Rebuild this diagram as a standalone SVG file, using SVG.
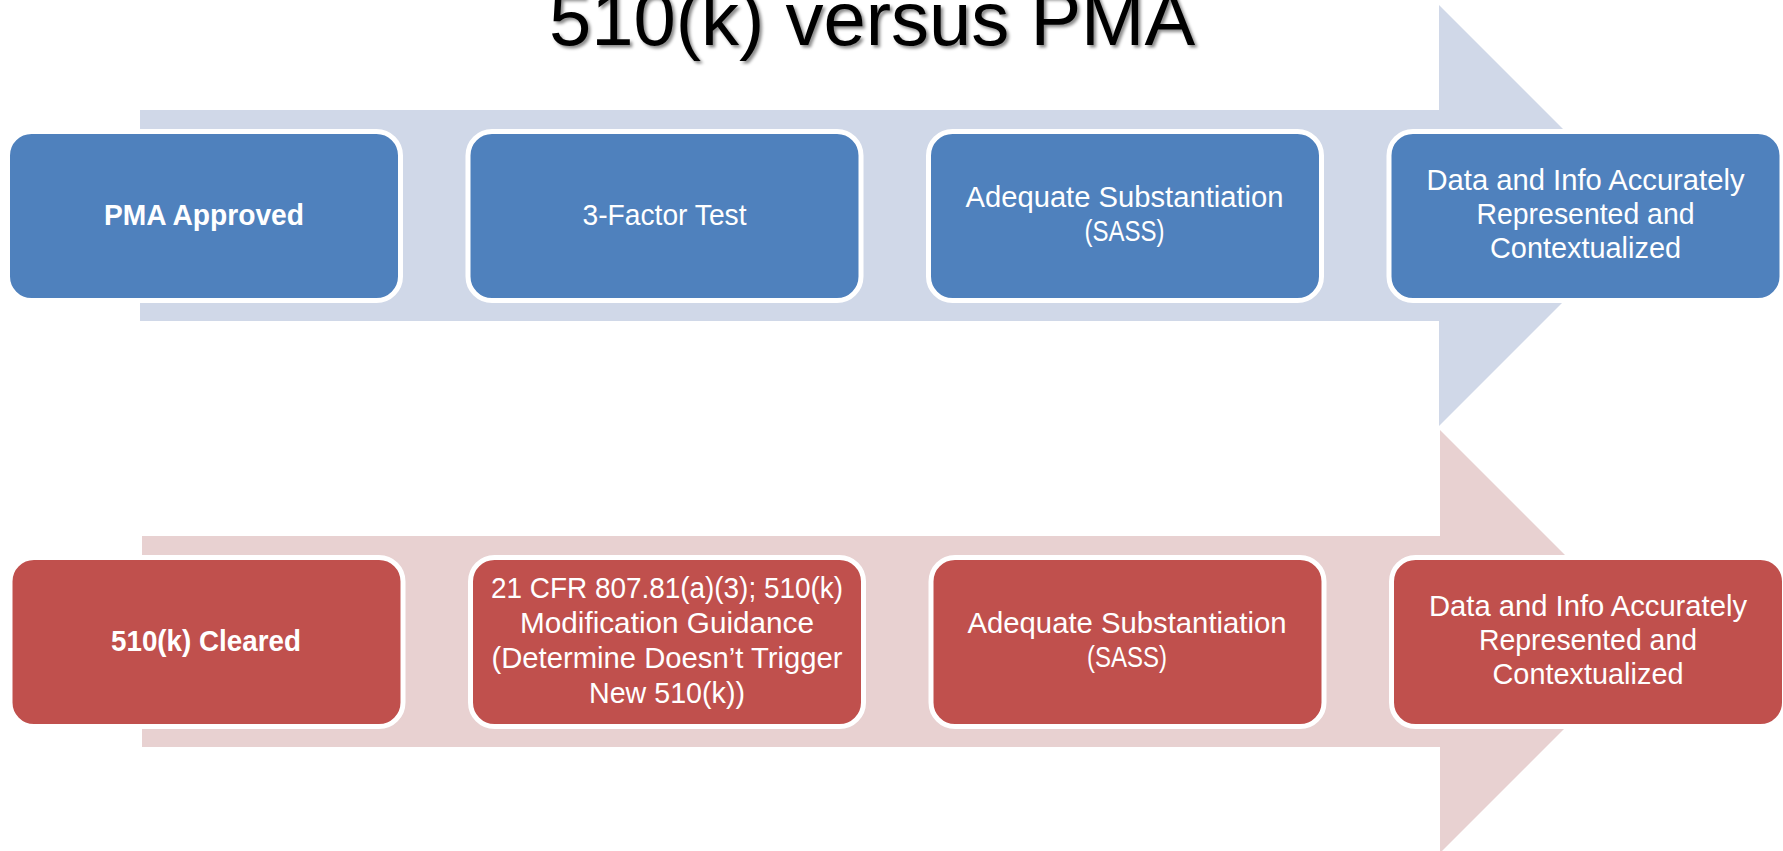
<svg xmlns="http://www.w3.org/2000/svg" width="1783" height="851" viewBox="0 0 1783 851">
  <defs>
    <filter id="titleShadow" x="-5%" y="-20%" width="110%" height="150%">
      <feDropShadow dx="2.5" dy="2.5" stdDeviation="1.5" flood-color="#000000" flood-opacity="0.45"/>
    </filter>
  </defs>
  <style>
    .title { font-family: "Liberation Sans", Arial, sans-serif; font-size: 76px; fill: #000000; }
    .band-blue { fill: #D0D8E8; }
    .band-red { fill: #E8D1D1; }
    .box { stroke: #FFFFFF; stroke-width: 5; }
    .box-blue { fill: #4F81BD; }
    .box-red { fill: #C0504D; }
    .label { font-family: "Liberation Sans", Arial, sans-serif; font-size: 29px; fill: #FFFFFF; text-anchor: middle; }
    .bold { font-weight: bold; }
  </style>

  <rect width="1783" height="851" fill="#FFFFFF"/>

  <!-- Title -->
  <text class="title" x="872" y="45" text-anchor="middle" filter="url(#titleShadow)">510(k) versus PMA</text>

  <!-- Process arrows behind each row -->
  <g id="process-arrows">
    <path class="band-blue" d="M140,110 H1439 V5 L1649.5,215.5 L1439,426 V321 H140 Z"/>
    <path class="band-red" d="M142,536 H1440 V430 L1651.5,641.5 L1440,853 V747 H142 Z"/>
  </g>

  <!-- PMA row -->
  <g id="pma-approved">
    <rect class="box box-blue" x="7.5" y="131.5" width="393" height="169" rx="24"/>
    <text class="label bold" x="204" y="225" textLength="200" lengthAdjust="spacingAndGlyphs">PMA Approved</text>
  </g>
  <g id="three-factor-test">
    <rect class="box box-blue" x="468" y="131.5" width="393" height="169" rx="24"/>
    <text class="label" x="664.5" y="225" textLength="164" lengthAdjust="spacingAndGlyphs">3-Factor Test</text>
  </g>
  <g id="pma-substantiation">
    <rect class="box box-blue" x="928.5" y="131.5" width="393" height="169" rx="24"/>
    <text class="label" x="1124.5" y="207" textLength="318" lengthAdjust="spacingAndGlyphs">Adequate Substantiation</text>
    <text class="label" x="1124.5" y="241" textLength="80" lengthAdjust="spacingAndGlyphs">(SASS)</text>
  </g>
  <g id="pma-data-info">
    <rect class="box box-blue" x="1389" y="131.5" width="393" height="169" rx="24"/>
    <text class="label" x="1585.5" y="190" textLength="318" lengthAdjust="spacingAndGlyphs">Data and Info Accurately</text>
    <text class="label" x="1585.5" y="224" textLength="218" lengthAdjust="spacingAndGlyphs">Represented and</text>
    <text class="label" x="1585.5" y="258" textLength="191" lengthAdjust="spacingAndGlyphs">Contextualized</text>
  </g>

  <!-- 510(k) row -->
  <g id="k510-cleared">
    <rect class="box box-red" x="10" y="557.5" width="393" height="169" rx="24"/>
    <text class="label bold" x="206" y="651" textLength="190" lengthAdjust="spacingAndGlyphs">510(k) Cleared</text>
  </g>
  <g id="cfr-modification">
    <rect class="box box-red" x="470.5" y="557.5" width="393" height="169" rx="24"/>
    <text class="label" x="667" y="597.5" textLength="352" lengthAdjust="spacingAndGlyphs">21 CFR 807.81(a)(3); 510(k)</text>
    <text class="label" x="667" y="632.5" textLength="294" lengthAdjust="spacingAndGlyphs">Modification Guidance</text>
    <text class="label" x="667" y="667.5" textLength="351" lengthAdjust="spacingAndGlyphs">(Determine Doesn’t Trigger</text>
    <text class="label" x="667" y="702.5" textLength="156" lengthAdjust="spacingAndGlyphs">New 510(k))</text>
  </g>
  <g id="k510-substantiation">
    <rect class="box box-red" x="931" y="557.5" width="393" height="169" rx="24"/>
    <text class="label" x="1127" y="633" textLength="319" lengthAdjust="spacingAndGlyphs">Adequate Substantiation</text>
    <text class="label" x="1127" y="667" textLength="80" lengthAdjust="spacingAndGlyphs">(SASS)</text>
  </g>
  <g id="k510-data-info">
    <rect class="box box-red" x="1391.5" y="557.5" width="393" height="169" rx="24"/>
    <text class="label" x="1588" y="616" textLength="318" lengthAdjust="spacingAndGlyphs">Data and Info Accurately</text>
    <text class="label" x="1588" y="650" textLength="218" lengthAdjust="spacingAndGlyphs">Represented and</text>
    <text class="label" x="1588" y="684" textLength="191" lengthAdjust="spacingAndGlyphs">Contextualized</text>
  </g>
</svg>
